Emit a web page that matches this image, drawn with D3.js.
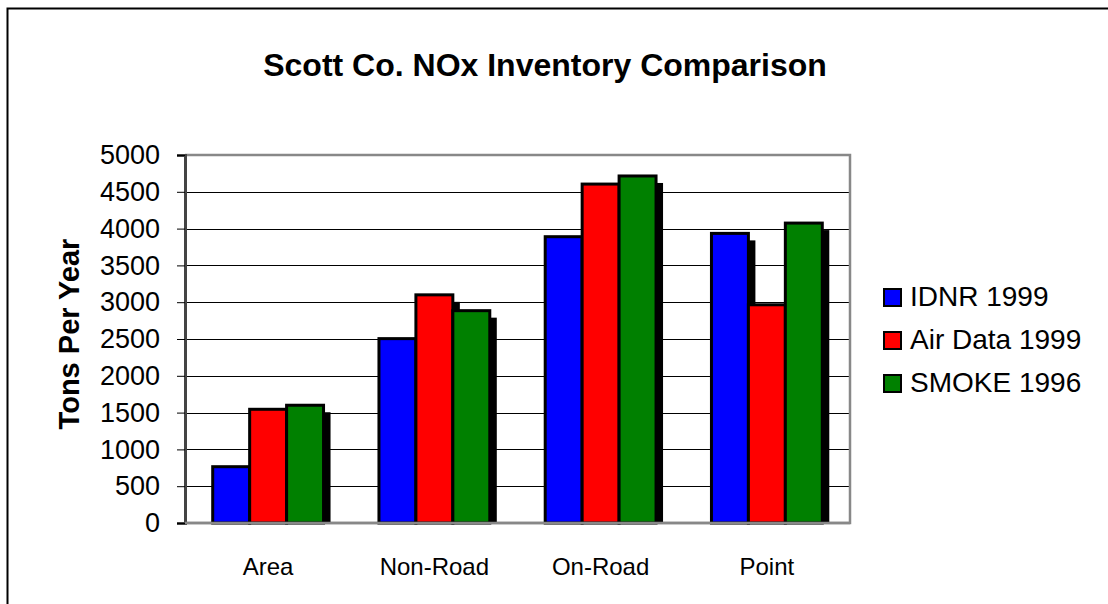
<!DOCTYPE html>
<html>
<head>
  <meta charset="utf-8">
  <title>Scott Co. NOx Inventory Comparison</title>
  <script src="https://d3js.org/d3.v7.min.js"></script>
  <style>
    body { margin: 0; background: #fff; }
    text { font-family: "Liberation Sans", Arial, sans-serif; }
  </style>
</head>
<body>
  <div id="chart"></div>

  <script>
    // data
    const categories = ["Area", "Non-Road", "On-Road", "Point"];
    const seriesNames = ["IDNR 1999", "Air Data 1999", "SMOKE 1996"];
    const seriesColors = ["#0000ff", "#ff0000", "#008000"];
    const idnr1999 = [765, 2505, 3890, 3935];
    const airData1999 = [1545, 3100, 4605, 2965];
    const smoke1996 = [1600, 2885, 4715, 4075];
    const yTicks = [0, 500, 1000, 1500, 2000, 2500, 3000, 3500, 4000, 4500, 5000];

    const series = [idnr1999, airData1999, smoke1996];

    const width = 1108, height = 604;
    const plot = { left: 185, right: 850, top: 155, bottom: 523 };

    const svg = d3.select("#chart").append("svg")
      .attr("width", width).attr("height", height);

    // outer chart border
    svg.append("rect")
      .attr("x", 7.5).attr("y", 8.5)
      .attr("width", width + 10).attr("height", height + 10)
      .attr("fill", "none").attr("stroke", "#000").attr("stroke-width", 2);

    svg.append("text")
      .attr("x", 545).attr("y", 76)
      .attr("text-anchor", "middle")
      .attr("font-size", 32).attr("font-weight", "bold")
      .text("Scott Co. NOx Inventory Comparison");

    const x = d3.scaleBand().domain(categories)
      .range([plot.left, plot.right]).paddingInner(0).paddingOuter(0);
    const xs = d3.scaleBand().domain(d3.range(series.length))
      .range([0, x.bandwidth()]).paddingInner(0).paddingOuter(0.75);
    const y = d3.scaleLinear().domain([0, 5000]).range([plot.bottom, plot.top]);

    // gridlines
    svg.append("g").selectAll("line")
      .data(yTicks.slice(1, -1))
      .join("line")
      .attr("x1", plot.left).attr("x2", plot.right)
      .attr("y1", d => Math.round(y(d)) + 0.5).attr("y2", d => Math.round(y(d)) + 0.5)
      .attr("stroke", "#000").attr("stroke-width", 1);

    // plot frame (top/right gray)
    svg.append("path")
      .attr("d", `M${plot.left},${plot.top}H${plot.right}V${plot.bottom}H${plot.left}`)
      .attr("fill", "none").attr("stroke", "#888").attr("stroke-width", 2.5);

    const bars = [];
    categories.forEach((c, i) => {
      series.forEach((s, j) => {
        bars.push({ cat: c, idx: j, value: s[i] });
      });
    });

    // drop shadows first, then the bars over them
    const shadow = 7;
    svg.append("g").selectAll("rect")
      .data(bars)
      .join("rect")
      .attr("x", d => x(d.cat) + xs(d.idx) + shadow)
      .attr("y", d => y(d.value) + shadow)
      .attr("width", xs.bandwidth())
      .attr("height", d => Math.max(0, plot.bottom - y(d.value) - shadow))
      .attr("fill", "#000");

    svg.append("g").selectAll("rect")
      .data(bars)
      .join("rect")
      .attr("x", d => x(d.cat) + xs(d.idx))
      .attr("y", d => y(d.value))
      .attr("width", xs.bandwidth())
      .attr("height", d => plot.bottom - y(d.value))
      .attr("fill", d => seriesColors[d.idx])
      .attr("stroke", "#000").attr("stroke-width", 3);

    // y axis
    const yAxis = svg.append("g")
      .attr("transform", `translate(${plot.left},0)`)
      .call(d3.axisLeft(y).tickValues(yTicks).tickSize(8).tickPadding(17).tickFormat(d3.format("d")));
    yAxis.select(".domain").attr("stroke", "#444").attr("stroke-width", 3);
    yAxis.selectAll(".tick line").attr("stroke", "#000");
    yAxis.selectAll(".tick text").attr("font-size", 27)
      .attr("font-family", "Liberation Sans, Arial, sans-serif").attr("fill", "#000");

    // baseline
    svg.append("line")
      .attr("x1", plot.left).attr("x2", plot.right)
      .attr("y1", plot.bottom).attr("y2", plot.bottom)
      .attr("stroke", "#888").attr("stroke-width", 2.5);

    // x labels
    svg.append("g").selectAll("text")
      .data(categories)
      .join("text")
      .attr("x", d => x(d) + x.bandwidth() / 2)
      .attr("y", 575)
      .attr("text-anchor", "middle")
      .attr("font-size", 24)
      .text(d => d);

    svg.append("text")
      .attr("transform", "translate(79,334) rotate(-90)")
      .attr("text-anchor", "middle")
      .attr("font-size", 29).attr("font-weight", "bold")
      .text("Tons Per Year");

    // legend
    const legend = svg.append("g").selectAll("g")
      .data(seriesNames)
      .join("g")
      .attr("transform", (d, i) => `translate(884,${289 + i * 43})`);
    legend.append("rect")
      .attr("width", 17).attr("height", 17)
      .attr("fill", (d, i) => seriesColors[i])
      .attr("stroke", "#000").attr("stroke-width", 2);
    legend.append("text")
      .attr("x", 26).attr("y", 17)
      .attr("font-size", 28)
      .text(d => d);
  </script>
</body>
</html>
